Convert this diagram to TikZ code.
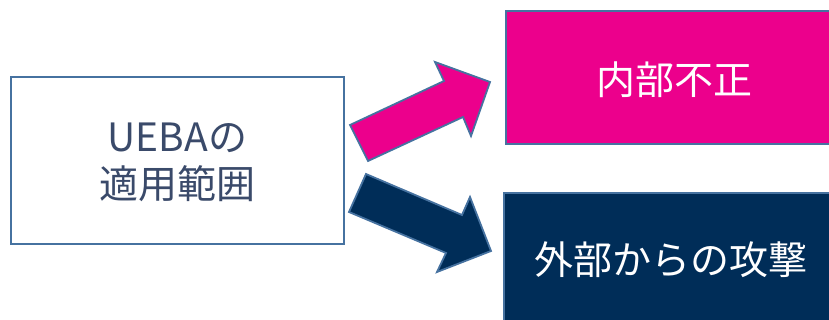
\documentclass[tikz,border=0pt]{standalone}
\usepackage{fontspec}
\setmainfont{Noto Sans CJK JP}
\definecolor{pinkfill}{RGB}{236,0,140}
\definecolor{navyfill}{RGB}{0,45,88}
\definecolor{edgeblue}{RGB}{70,114,160}
\definecolor{slatetext}{RGB}{58,74,106}
\begin{document}
\begin{tikzpicture}[x=1pt,y=-1pt,
  boxstyle/.style={draw=edgeblue,line width=1.5pt,inner sep=0pt,outer sep=0pt},
  blockarrow/.style={draw=edgeblue,line width=1.8pt,line join=miter}]
\useasboundingbox (0,0) rectangle (829,320);
\clip (0,0) rectangle (829,320);
% left box
\draw[boxstyle,fill=white] (11,77) rectangle (344,244);
\node[text=slatetext,font=\fontsize{39}{47}\selectfont,align=center] (src) at (177.5,162) {UEBAの\\適用範囲};
% pink box
\draw[boxstyle,fill=pinkfill] (506,11) rectangle (842,144);
\node[text=white,font=\fontsize{39}{47}\selectfont] (inner) at (674,80) {内部不正};
% navy box
\draw[boxstyle,fill=navyfill] (504,193) rectangle (838,329);
\node[text=white,font=\fontsize{39}{47}\selectfont] (outer) at (671,260) {外部からの攻撃};
% arrows
\coordinate (pa1) at (350,125);
\coordinate (pa2) at (444,81);
\coordinate (pa3) at (435,62);
\coordinate (pa4) at (490,82);
\coordinate (pa5) at (471,136);
\coordinate (pa6) at (463,117);
\coordinate (pa7) at (368,161);
\draw[blockarrow,fill=pinkfill] (pa1) -- (pa2) -- (pa3) -- (pa4) -- (pa5) -- (pa6) -- (pa7) -- cycle;
\coordinate (na1) at (366,174);
\coordinate (na2) at (462,215);
\coordinate (na3) at (470,197);
\coordinate (na4) at (491,251);
\coordinate (na5) at (437,272);
\coordinate (na6) at (446,253);
\coordinate (na7) at (349,212);
\draw[blockarrow,fill=navyfill] (na1) -- (na2) -- (na3) -- (na4) -- (na5) -- (na6) -- (na7) -- cycle;
\end{tikzpicture}
\end{document}
